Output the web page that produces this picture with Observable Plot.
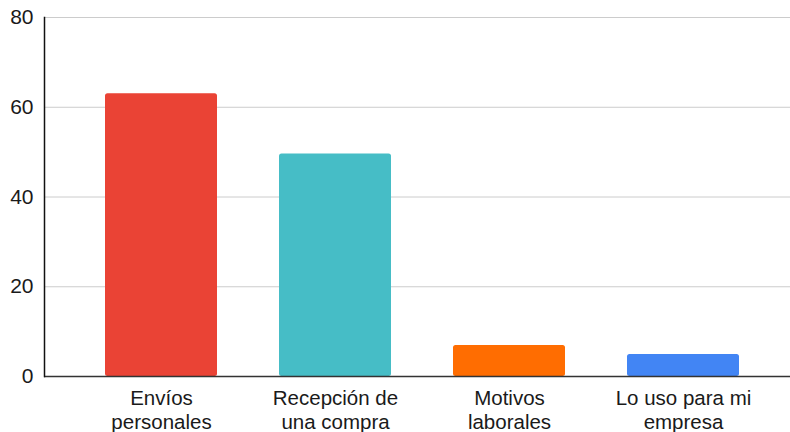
<!DOCTYPE html>
<html>
<head>
<meta charset="utf-8">
<script src="https://cdn.jsdelivr.net/npm/d3@7"></script>
<script src="https://cdn.jsdelivr.net/npm/@observablehq/plot@0.6"></script>
<style>
  html, body { margin: 0; padding: 0; background: #fff; }
  #chart svg { display: block; }
</style>
</head>
<body>
<div id="chart"></div>
<script>
// Motivo de uso del servicio
const categories = ["Envíos personales", "Recepción de una compra", "Motivos laborales", "Lo uso para mi empresa"];
const tickLabels = ["Envíos\npersonales", "Recepción de\nuna compra", "Motivos\nlaborales", "Lo uso para mi\nempresa"];
const values = [63, 49.6, 6.9, 4.9];
const colors = ["#ea4335", "#46bdc6", "#ff6d01", "#4285f4"];
const yTicks = [0, 20, 40, 60, 80];

const data = categories.map((c, i) => ({category: c, value: values[i], color: colors[i]}));
const labelOf = new Map(categories.map((c, i) => [c, tickLabels[i]]));

const chart = Plot.plot({
  width: 790,
  height: 432,
  marginTop: 17,
  marginLeft: 44,
  marginRight: 0,
  marginBottom: 56,
  style: {fontFamily: "'Liberation Sans', Arial, sans-serif", fontSize: "21px", color: "#1a1a1a", background: "#fff"},
  x: {domain: categories, insetLeft: 30, insetRight: 20, paddingInner: 0.356, paddingOuter: 0.178, label: null},
  y: {domain: [0, 80], label: null},
  marks: [
    Plot.gridY(yTicks.filter(d => d > 0), {stroke: "#cccccc", strokeOpacity: 1, strokeWidth: 1}),
    Plot.barY(data, {x: "category", y: "value", fill: "color", rx: 2.5}),
    Plot.ruleY([0], {stroke: "#333", strokeWidth: 1.5}),
    Plot.frame({anchor: "left", stroke: "#111", strokeWidth: 1.5}),
    Plot.axisY(yTicks, {tickSize: 0, tickPadding: 11, fontSize: 21, label: null}),
    Plot.axisX({tickSize: 0, tickPadding: 11.3, fontSize: 20.5, lineHeight: 1.17, tickFormat: d => labelOf.get(d), label: null})
  ]
});

document.getElementById("chart").appendChild(chart);
</script>
</body>
</html>
